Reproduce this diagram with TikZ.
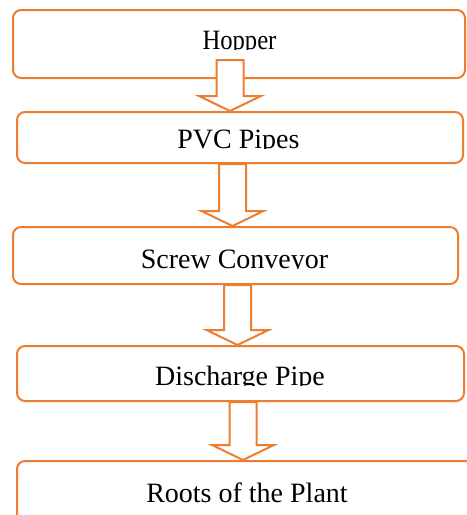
\documentclass[tikz,border=0pt]{standalone}
\usepackage{fontspec}
\setmainfont{Liberation Serif}
\usetikzlibrary{calc,positioning}

\definecolor{flowline}{HTML}{ED7D31}

\tikzset{
  stage/.style 2 args={draw=flowline, line width=1.5pt, rounded corners=6pt, fill=white,
    inner sep=0pt, minimum width=#1*0.75pt, minimum height=#2*0.75pt},
  stagetext/.style={anchor=base, inner sep=0pt, font=\fontsize{21}{25}\selectfont},
  flow/.style={draw=flowline, line width=1.5pt, fill=white, line join=miter}
}

% hollow block arrow: #1 start of shaft, #2 tip
\newcommand{\flowarrow}[2]{%
  \draw[flow] ($(#1)+(-13.5,0)$) -- ($(#2)+(-13.5,-15)$) -- ($(#2)+(-31,-15)$) -- (#2)
    -- ($(#2)+(31,-15)$) -- ($(#2)+(13.5,-15)$) -- ($(#1)+(13.5,0)$) -- cycle;}

% text cut off at its baseline, as in the original
\newcommand{\cuttext}[4]{%
  \begin{scope}
    \clip (#2-250,#3) rectangle (#2+250,#3-40);
    \node[stagetext] (#1) at (#2,#3) {#4};
  \end{scope}}

\begin{document}
\begin{tikzpicture}[x=0.75pt, y=-0.75pt]
  \useasboundingbox (0,0) rectangle (467,515);
  \fill[white] (0,0) rectangle (467,515);
  \clip (0,0) rectangle (467,515);

  \node[stage={452}{68}] (hopper) at (239,44) {};
  \node[stage={446}{51}] (pvc) at (240,137.5) {};
  \node[stage={445}{57}] (screw) at (235.5,255.5) {};
  \node[stage={447}{55}] (discharge) at (240.5,373.5) {};
  \node[stage={463}{69}] (roots) at (248.5,495.5) {};

  \coordinate (s1) at (230,60);
  \coordinate (s2) at (232.5,0 |- pvc.south);
  \coordinate (s3) at (237.5,0 |- screw.south);
  \coordinate (s4) at (243,0 |- discharge.south);

  \flowarrow{s1}{s1 |- pvc.north}
  \flowarrow{s2}{s2 |- screw.north}
  \flowarrow{s3}{s3 |- discharge.north}
  \flowarrow{s4}{s4 |- roots.north}

  \begin{scope}
    \clip (0,0) rectangle (467,49);
    \node[stagetext, xscale=0.88, transform shape] (hoppertext) at (239.5,49) {Hopper};
  \end{scope}
  \cuttext{pvctext}{238.5}{148.5}{PVC Pipes}
  \cuttext{screwtext}{234.5}{268}{Screw Conveyor}
  \cuttext{dischargetext}{240}{385}{Discharge Pipe}
  \node[stagetext] (rootstext) at (247,502) {Roots of the Plant};

\end{tikzpicture}
\end{document}
